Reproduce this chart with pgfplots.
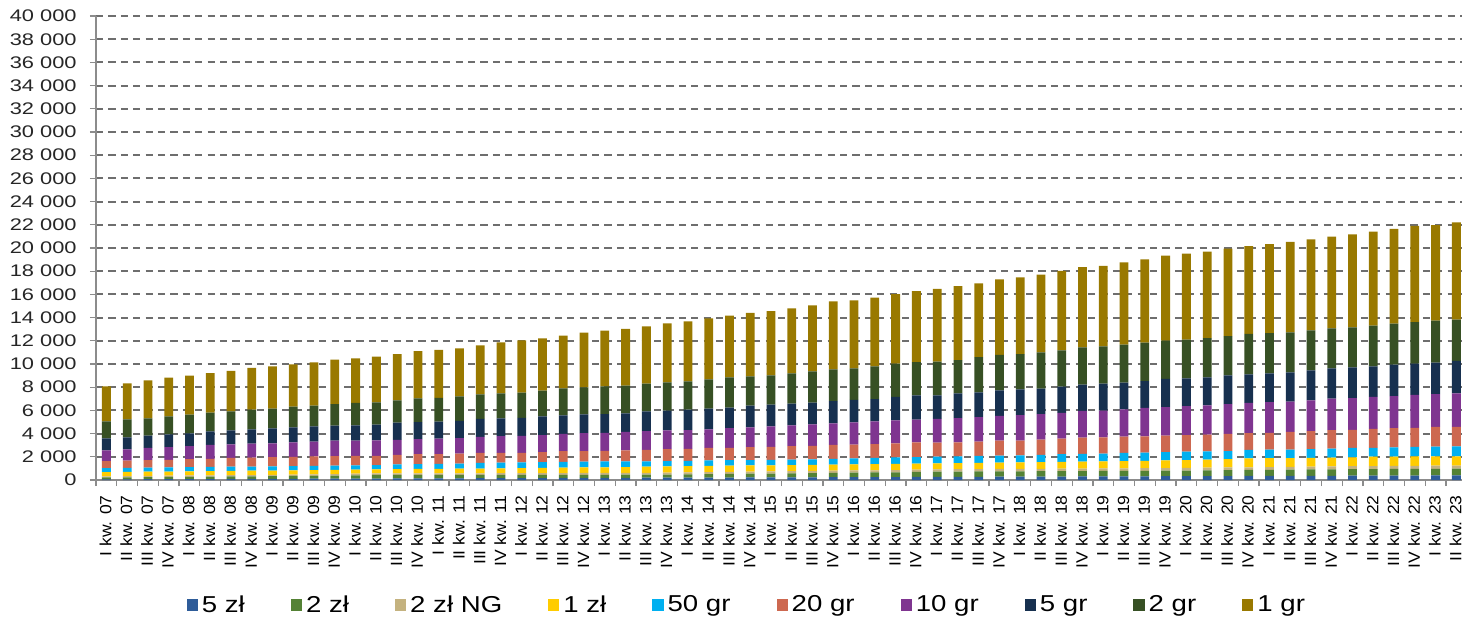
\documentclass[border=0pt]{standalone}
\usepackage{fontspec}
\setmainfont{Liberation Sans}[FakeStretch=1.2]
\newfontfamily\xlabfont{Liberation Sans}[FakeStretch=1.08]
\newfontfamily\ylabfont{Liberation Sans}[FakeStretch=1.3]
\usepackage{pgfplots}
\usepackage{pgfplotstable}
\pgfplotsset{compat=1.18}
\definecolor{cA}{HTML}{2E5C99}
\definecolor{cB}{HTML}{548235}
\definecolor{cC}{HTML}{C4B27F}
\definecolor{cD}{HTML}{FFCC00}
\definecolor{cE}{HTML}{00B0F0}
\definecolor{cF}{HTML}{CD6850}
\definecolor{cG}{HTML}{7F3590}
\definecolor{cH}{HTML}{17304F}
\definecolor{cI}{HTML}{375024}
\definecolor{cJ}{HTML}{997900}
\definecolor{gridc}{HTML}{6E6E6E}
\definecolor{axc}{HTML}{8C8C8C}
\pgfplotstableread{
x a b c d e f g h i j
0 60 160 100 370 340 590 940 1030 1470 3010
1 65 163 102 370 350 620 970 1040 1550 3100
2 70 175 105 370 350 650 1040 1060 1500 3270
3 76 187 107 360 360 650 1100 1100 1550 3330
4 81 199 110 360 360 700 1120 1090 1610 3360
5 86 202 112 370 360 700 1190 1180 1600 3420
6 91 214 115 360 370 750 1170 1210 1640 3480
7 96 217 117 370 360 760 1210 1240 1690 3600
8 102 228 120 360 370 800 1180 1290 1700 3650
9 107 241 122 360 370 790 1260 1290 1780 3650
10 112 253 125 360 370 820 1260 1330 1780 3730
11 117 266 127 360 370 820 1330 1290 1870 3820
12 122 288 130 350 370 810 1320 1310 1940 3850
13 128 310 132 350 370 780 1350 1350 1930 3930
14 133 302 135 360 420 810 1290 1490 1930 3990
15 138 295 137 380 420 870 1290 1470 2040 4080
16 143 297 140 380 430 850 1320 1470 2050 4130
17 148 290 142 400 440 850 1350 1470 2120 4140
18 154 281 145 410 490 850 1380 1550 2130 4220
19 159 284 147 410 500 830 1460 1530 2150 4400
20 164 276 150 430 500 830 1450 1550 2180 4510
21 169 279 152 440 510 860 1470 1610 2210 4510
22 174 271 155 460 510 930 1470 1600 2330 4540
23 180 273 157 470 510 910 1550 1610 2330 4710
24 185 265 160 490 510 910 1550 1610 2390 4800
25 190 268 162 500 490 940 1590 1610 2380 4890
26 195 260 165 530 460 980 1630 1700 2380 4950
27 200 263 167 550 440 1050 1610 1700 2440 5090
28 206 284 170 540 440 1050 1610 1760 2450 5170
29 211 297 172 540 480 1060 1610 1780 2530 5260
30 216 309 175 540 470 1070 1700 1760 2610 5320
31 221 322 177 540 460 1120 1700 1870 2530 5460
32 226 334 180 530 460 1130 1770 1860 2530 5550
33 232 346 182 530 460 1180 1780 1870 2620 5600
34 237 358 185 520 480 1170 1850 1870 2700 5690
35 242 371 187 520 500 1200 1870 1920 2730 5860
36 247 383 190 520 530 1170 1930 1930 2730 5860
37 252 396 192 520 540 1200 1960 1920 2820 5920
38 258 407 195 530 560 1210 1980 2020 2870 6000
39 263 430 197 520 570 1270 1950 2100 2870 6120
40 268 452 200 520 570 1210 2040 2040 2900 6270
41 273 455 202 530 570 1220 2090 2130 2870 6380
42 278 457 205 540 590 1230 2130 2130 3040 6350
43 284 459 207 550 600 1290 2130 2210 3050 6520
44 289 461 210 560 610 1270 2200 2220 3040 6610
45 294 464 212 570 620 1320 2210 2180 3140 6690
46 299 466 215 580 680 1320 2220 2270 3130 6840
47 304 469 217 590 680 1390 2300 2270 3220 6920
48 310 470 220 600 680 1390 2310 2320 3220 6930
49 315 473 222 620 700 1410 2350 2300 3280 7090
50 320 475 225 640 700 1410 2440 2320 3310 7180
51 325 478 227 660 720 1410 2470 2420 3300 7330
52 330 480 230 680 720 1440 2500 2380 3340 7410
53 336 492 232 690 720 1440 2530 2410 3390 7440
54 341 504 235 710 710 1470 2580 2470 3390 7530
55 346 517 237 770 720 1460 2590 2470 3480 7580
56 351 529 240 760 730 1460 2650 2480 3470 7670
57 356 542 242 750 740 1510 2610 2530 3450 7790
58 362 553 245 750 760 1550 2650 2580 3450 7850
59 367 556 247 760 770 1610 2700 2620 3440 7910
60 372 568 250 770 800 1570 2720 2660 3450 8020
61 377 571 252 810 770 1620 2760 2640 3500 8110
62 382 573 255 810 800 1660 2760 2700 3540 8160
63 388 575 257 810 820 1650 2830 2700 3590 8280
64 393 577 260 800 840 1700 2840 2700 3630 8240
65 398 580 262 800 860 1670 2900 2790 3560 8390
}\coins
\begin{document}
\begin{tikzpicture}
\useasboundingbox (-48pt,-74.5pt) rectangle (683pt,240pt);
\begin{axis}[
  at={(0,0)}, anchor=south west,
  scale only axis, width=683.3pt, height=232pt,
  ybar stacked, bar width=4.4pt,
  xmin=-0.5, xmax=65.3, ymin=0, ymax=40000,
  clip=false,
  axis x line*=bottom, axis y line*=left,
  axis line style={axc, line width=0.6pt},
  xtick={0,...,65},
  xticklabels={I kw. 07,II kw. 07,III kw. 07,IV kw. 07,I kw. 08,II kw. 08,III kw. 08,IV kw. 08,I kw. 09,II kw. 09,III kw. 09,IV kw. 09,I kw. 10,II kw. 10,III kw. 10,IV kw. 10,I kw. 11,II kw. 11,III kw. 11,IV kw. 11,I kw. 12,II kw. 12,III kw. 12,IV kw. 12,I kw. 13,II kw. 13,III kw. 13,IV kw. 13,I kw. 14,II kw. 14,III kw. 14,IV kw. 14,I kw. 15,II kw. 15,III kw. 15,IV kw. 15,I kw. 16,II kw. 16,III kw. 16,IV kw. 16,I kw. 17,II kw. 17,III kw. 17,IV kw. 17,I kw. 18,II kw. 18,III kw. 18,IV kw. 18,I kw. 19,II kw. 19,III kw. 19,IV kw. 19,I kw. 20,II kw. 20,III kw. 20,IV kw. 20,I kw. 21,II kw. 21,III kw. 21,IV kw. 21,I kw. 22,II kw. 22,III kw. 22,IV kw. 22,I kw. 23,II kw. 23},
  major x tick style={draw=none},
  minor xtick={-0.5,0.5,...,64.5},
  minor x tick style={axc, line width=0.6pt},
  minor tick length=3pt,
  tick align=outside,
  x tick label style={rotate=90, anchor=east, inner sep=0pt, xshift=-4.5pt, yshift=0.4pt, font=\xlabfont\fontsize{8.1}{8.1}\selectfont, text=black},
  ytick={0,2000,...,40000},
  scaled y ticks=false,
  y tick style={axc, line width=0.6pt},
  major tick length=3pt,
  y tick label style={font=\ylabfont\fontsize{8.4}{8.4}\selectfont, text=black!85, inner sep=0pt, xshift=-6.5pt},
  /pgf/number format/.cd, fixed, 1000 sep={\ }, assume math mode=true,
  /pgfplots/.cd,
  ymajorgrids,
  major grid style={gridc, line width=1pt, dash pattern=on 3.6pt off 2.6pt},
  legend columns=10,
  legend style={at={(0.477,-0.27)}, anchor=center, draw=none, fill=none,
    font=\fontsize{11.5}{11.5}\selectfont, inner sep=0pt,
    /tikz/every even column/.append style={column sep=21pt}},
  legend image code/.code={\path[#1,draw=none] (0pt,-2.9pt) rectangle (5.6pt,2.9pt);},
]
\addplot[fill=cA, draw=none] table[x=x,y=a]{\coins}; \addlegendentry{5 zł}
\addplot[fill=cB, draw=none] table[x=x,y=b]{\coins}; \addlegendentry{2 zł}
\addplot[fill=cC, draw=none] table[x=x,y=c]{\coins}; \addlegendentry{2 zł NG}
\addplot[fill=cD, draw=none] table[x=x,y=d]{\coins}; \addlegendentry{1 zł}
\addplot[fill=cE, draw=none] table[x=x,y=e]{\coins}; \addlegendentry{50 gr}
\addplot[fill=cF, draw=none] table[x=x,y=f]{\coins}; \addlegendentry{20 gr}
\addplot[fill=cG, draw=none] table[x=x,y=g]{\coins}; \addlegendentry{10 gr}
\addplot[fill=cH, draw=none] table[x=x,y=h]{\coins}; \addlegendentry{5 gr}
\addplot[fill=cI, draw=none] table[x=x,y=i]{\coins}; \addlegendentry{2 gr}
\addplot[fill=cJ, draw=none] table[x=x,y=j]{\coins}; \addlegendentry{1 gr}
\end{axis}
\end{tikzpicture}
\end{document}
